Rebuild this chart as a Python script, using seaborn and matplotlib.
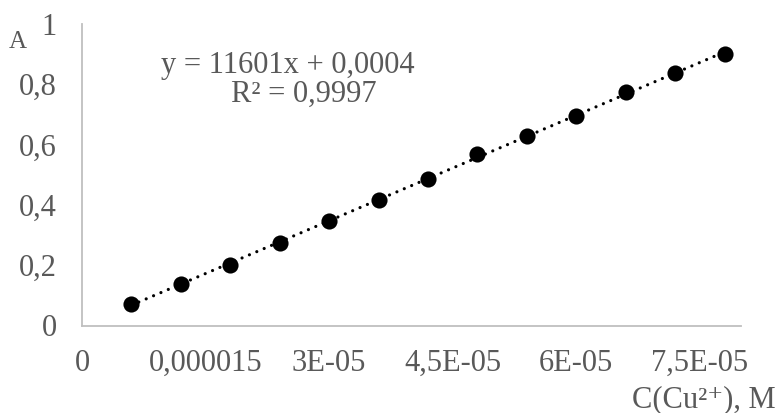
import matplotlib
matplotlib.use("Agg")
import matplotlib.pyplot as plt
import seaborn as sns
import pandas as pd

# Data
conc = [6e-6, 12e-6, 18e-6, 24e-6, 30e-6, 36e-6, 42e-6, 48e-6, 54e-6, 60e-6, 66e-6, 72e-6, 78e-6]
absorb = [0.072, 0.138, 0.202, 0.274, 0.346, 0.415, 0.485, 0.568, 0.627, 0.696, 0.774, 0.837, 0.901]

x_ticks = [0, 1.5e-5, 3e-5, 4.5e-5, 6e-5, 7.5e-5]
x_tick_labels = ["0", "0,000015", "3E-05", "4,5E-05", "6E-05", "7,5E-05"]
y_ticks = [0, 0.2, 0.4, 0.6, 0.8, 1.0]
y_tick_labels = ["0", "0,2", "0,4", "0,6", "0,8", "1"]

eq_text = "y = 11601x + 0,0004"
r2_text = "R² = 0,9997"
x_label = "C(Cu²⁺), M"
y_label = "A"

df = pd.DataFrame({"C": conc, "A": absorb})

sns.set_theme(style="white")
plt.rcParams["font.family"] = ["Liberation Serif", "DejaVu Serif"]

grey = "#595959"
axis_grey = "#bfbfbf"

fig = plt.figure(figsize=(7.79, 4.13), dpi=100)
ax = fig.add_axes([82 / 779, 87.5 / 413, (741 - 82) / 779, (389 - 87.5) / 413])

sns.regplot(data=df, x="C", y="A", ax=ax, scatter=False, ci=None, truncate=True,
            line_kws=dict(color="black", linewidth=2.3, linestyle=(0, (0.01, 2.5)),
                          dash_capstyle="round", zorder=3))
sns.scatterplot(data=df, x="C", y="A", ax=ax, s=135, color="black", edgecolor="black",
                linewidth=0, zorder=2)

ax.set_xlim(0, 8e-5)
ax.set_ylim(0, 1.0)
ax.set_xticks(x_ticks)
ax.set_xticklabels(x_tick_labels)
ax.set_yticks(y_ticks)
ax.set_yticklabels(y_tick_labels)
ax.set_xlabel("")
ax.set_ylabel("")

for side in ["top", "right"]:
    ax.spines[side].set_visible(False)
for side in ["left", "bottom"]:
    ax.spines[side].set_color(axis_grey)
    ax.spines[side].set_linewidth(1.3)

ax.tick_params(axis="x", direction="in", length=6, width=1.3, color=axis_grey,
               labelsize=22, labelcolor=grey, pad=17)
ax.tick_params(axis="y", direction="in", length=7, width=1.3, color=axis_grey,
               labelsize=22, labelcolor=grey, pad=18)

fig.text(288 / 779, (413 - 66) / 413, eq_text, ha="center", va="center",
         fontsize=22, color=grey)
fig.text(304 / 779, (413 - 94) / 413, r2_text, ha="center", va="center",
         fontsize=22, color=grey)
fig.text(17.5 / 779, (413 - 48) / 413, y_label, ha="center", va="baseline",
         fontsize=18, color=grey)
fig.text(776 / 779, (413 - 407) / 413, x_label, ha="right", va="baseline",
         fontsize=22, color=grey)

fig.savefig("out.png", dpi=100)
